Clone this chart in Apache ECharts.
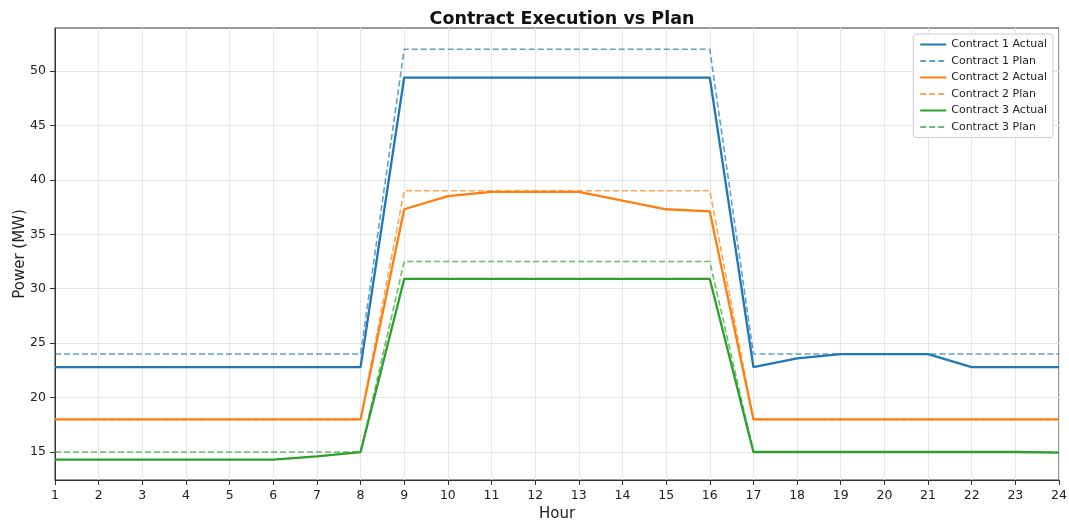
<!DOCTYPE html>
<html>
<head>
<meta charset="utf-8">
<script src="https://cdn.jsdelivr.net/npm/echarts@6/dist/echarts.min.js"></script>
<style>html,body{margin:0;padding:0;background:#fff}#c{width:1069px;height:521px}</style>
</head>
<body>
<div id="c"></div>
<script>
const hours = [1,2,3,4,5,6,7,8,9,10,11,12,13,14,15,16,17,18,19,20,21,22,23,24];
const c1Actual = [22.8,22.8,22.8,22.8,22.8,22.8,22.8,22.8,49.4,49.4,49.4,49.4,49.4,49.4,49.4,49.4,22.8,23.6,24.0,24.0,24.0,22.8,22.8,22.8];
const c1Plan   = [24,24,24,24,24,24,24,24,52,52,52,52,52,52,52,52,24,24,24,24,24,24,24,24];
const c2Actual = [18,18,18,18,18,18,18,18,37.3,38.5,38.9,38.9,38.9,38.1,37.3,37.1,18,18,18,18,18,18,18,18];
const c2Plan   = [18,18,18,18,18,18,18,18,39,39,39,39,39,39,39,39,18,18,18,18,18,18,18,18];
const c3Actual = [14.3,14.3,14.3,14.3,14.3,14.3,14.6,15.0,30.9,30.9,30.9,30.9,30.9,30.9,30.9,30.9,15,15,15,15,15,15,15,14.95];
const c3Plan   = [15,15,15,15,15,15,15,15,32.5,32.5,32.5,32.5,32.5,32.5,32.5,32.5,15,15,15,15,15,15,15,15];
const yTicks = [15,20,25,30,35,40,45,50];

const pairs = a => hours.map((h,i)=>[h,a[i]]);
const blue='#1f77b4', orange='#ff7f0e', green='#2ca02c';
function actual(name,data,color){return {name,type:'line',data:pairs(data),symbol:'none',lineStyle:{color,width:2.3},itemStyle:{color},z:3};}
function plan(name,data,color){return {name,type:'line',data:pairs(data),symbol:'none',lineStyle:{color,width:1.6,type:[6,3],opacity:0.7},itemStyle:{color,opacity:0.7},z:2};}

const chart = echarts.init(document.getElementById('c'));
chart.setOption({
  animation:false,
  textStyle:{fontFamily:'DejaVu Sans'},
  title:{text:'Contract Execution vs Plan',left:557,textAlign:'center',top:5,textStyle:{fontSize:17.5,fontWeight:'bold',color:'#111',fontFamily:'DejaVu Sans'}},
  grid:{left:55,right:10,top:28,bottom:41,show:true,borderColor:'#333',borderWidth:1,backgroundColor:'transparent',containLabel:false,outerBoundsMode:'none'},
  legend:{
    orient:'vertical',right:16,top:34,
    backgroundColor:'#fff',borderColor:'#ccc',borderWidth:1,borderRadius:3,
    padding:[5,6,5,6],itemWidth:26,itemHeight:11,itemGap:5.5,
    itemStyle:{opacity:0},
    textStyle:{fontSize:11,color:'#222',fontFamily:'DejaVu Sans'},
    data:['Contract 1 Actual','Contract 1 Plan','Contract 2 Actual','Contract 2 Plan','Contract 3 Actual','Contract 3 Plan']
  },
  xAxis:{
    type:'value',min:1,max:24,interval:1,
    name:'Hour',nameLocation:'middle',nameGap:27,nameMoveOverlap:false,nameTextStyle:{fontSize:15,color:'#222'},
    axisLine:{show:true,lineStyle:{color:'#333',width:1}},
    axisTick:{show:true,length:5,lineStyle:{color:'#333'}},
    axisLabel:{fontSize:12.5,color:'#222',margin:9},
    splitLine:{show:true,lineStyle:{color:'#e6e6e6',width:1}}
  },
  yAxis:{
    type:'value',min:12.43,max:53.95,
    name:'Power (MW)',nameLocation:'middle',nameGap:27,nameMoveOverlap:false,nameTextStyle:{fontSize:15,color:'#222'},
    axisLine:{show:true,lineStyle:{color:'#333',width:1}},
    axisTick:{show:true,length:5,lineStyle:{color:'#333'},customValues:yTicks},
    axisLabel:{fontSize:12.5,color:'#222',margin:9,customValues:yTicks},
    splitLine:{show:true,lineStyle:{color:'#e6e6e6',width:1}}
  },
  series:[
    actual('Contract 1 Actual',c1Actual,blue),
    plan('Contract 1 Plan',c1Plan,blue),
    actual('Contract 2 Actual',c2Actual,orange),
    plan('Contract 2 Plan',c2Plan,orange),
    actual('Contract 3 Actual',c3Actual,green),
    plan('Contract 3 Plan',c3Plan,green)
  ]
});
</script>
</body>
</html>
